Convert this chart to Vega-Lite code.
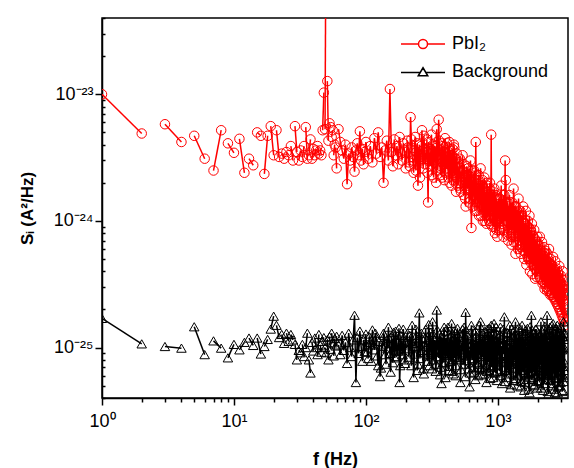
{
"$schema": "https://vega.github.io/schema/vega-lite/v6.json",
"width": 466, "height": 380,
"autosize": "none",
"padding": {"left": 102, "top": 18, "right": 6, "bottom": 70},
"background": "white",
"config": {"view": {"stroke": "black", "strokeWidth": 1.5}, "font": "Liberation Sans"},
"data": {"values": [
{"f":1,"a":1e-23,"b":1.7e-25,"p":1},{"f":2,"a":4.9e-24,"b":1.07e-25,"p":1},
{"f":3,"a":5.8e-24,"b":1.02e-25,"p":2},{"f":4,"a":4.2e-24,"b":9.9e-26,"p":2},
{"f":5,"a":4.7e-24,"b":1.46e-25,"p":3},{"f":6,"a":3.1e-24,"b":8.8e-26,"p":3},
{"f":7,"a":2.5e-24,"b":1.13e-25,"p":4},{"f":8,"a":5.2e-24,"b":9.9e-26,"p":4},
{"f":9,"a":4.1e-24,"b":8.3e-26,"p":5},{"f":10,"a":3.45e-24,"b":1.06e-25,"p":5},
{"f":11,"a":4.45e-24,"b":9.6e-26,"p":6},{"f":12,"a":2.4e-24,"b":1.1e-25,"p":6},
{"f":13,"a":3.1e-24,"b":1.19e-25,"p":7},{"f":14,"a":2.75e-24,"b":1.04e-25,"p":7},
{"f":15,"a":5e-24,"b":1.19e-25,"p":8},{"f":16,"a":4.7e-24,"b":8.9e-26,"p":8},
{"f":17,"a":2.35e-24,"b":1.02e-25,"p":9},{"f":18,"a":4.7e-24,"b":1.16e-25,"p":9},
{"f":19,"a":5.6e-24,"b":1.4e-25,"p":10},{"f":20,"a":3.3e-24,"b":1.77e-25,"p":10},
{"f":21,"a":5.2e-24,"b":1.5e-25,"p":11},{"f":22,"a":3.2e-24,"b":1.2e-25,"p":11},
{"f":23,"a":3.4e-24,"b":1.27e-25,"p":12},{"f":24,"a":3.1e-24,"b":1.08e-25,"p":12},
{"f":25,"a":3.5e-24,"b":1.3e-25,"p":13},{"f":26,"a":3.3e-24,"b":1.12e-25,"p":13},
{"f":27,"a":3.9e-24,"b":1.27e-25,"p":14},{"f":28,"a":3e-24,"b":1.15e-25,"p":14},
{"f":29,"a":5.6e-24,"b":1.06e-25,"p":15},{"f":30,"a":3.5e-24,"b":8e-26,"p":15},
{"f":31,"a":3e-24,"b":9.5e-26,"p":16},{"f":32,"a":3.6e-24,"b":9.1e-26,"p":16},
{"f":33,"a":3.2e-24,"b":1.06e-25,"p":17},{"f":34,"a":3.9e-24,"b":8.5e-26,"p":17},
{"f":35,"a":5.5e-24,"b":1e-25,"p":18},{"f":36,"a":3.1e-24,"b":1.3e-25,"p":18},
{"f":37,"a":3.3e-24,"b":8e-26,"p":19},{"f":38,"a":4.4e-24,"b":6.3e-26,"p":19},
{"f":39,"a":3.1e-24,"b":1.1e-25,"p":20},{"f":40,"a":3.7e-24,"b":9.4e-26,"p":20},
{"f":41,"a":3.3e-24,"b":1.19e-25,"p":21},{"f":42,"a":3.6e-24,"b":1e-25,"p":21},
{"f":43,"a":3.9e-24,"b":8.8e-26,"p":22},{"f":44,"a":3.4e-24,"b":1.27e-25,"p":22},
{"f":45,"a":3.6e-24,"b":1.05e-25,"p":23},{"f":46,"a":3.3e-24,"b":9.2e-26,"p":23},
{"f":47,"a":5.2e-24,"b":1.12e-25,"p":24},{"f":48,"a":1.03e-23,"b":1.2e-25,"p":24},
{"f":49,"a":5.3e-24,"b":1e-25,"p":25},{"f":50,"a":5e-22,"b":9.1e-26,"p":25},
{"f":51,"a":1.27e-23,"b":1.15e-25,"p":26},{"f":52,"a":4.3e-24,"b":8e-26,"p":26},
{"f":53,"a":5.9e-24,"b":1.22e-25,"p":27},{"f":54,"a":5.5e-24,"b":9.7e-26,"p":27},
{"f":55,"a":4.6e-24,"b":1.3e-25,"p":28},{"f":56,"a":5.2e-24,"b":1.09e-25,"p":28},
{"f":57,"a":3.3e-24,"b":8.6e-26,"p":29},{"f":58,"a":4e-24,"b":1.18e-25,"p":29},
{"f":59,"a":3.8e-24,"b":1.03e-25,"p":30},{"f":60,"a":2.6e-24,"b":1.23e-25,"p":30},
{"f":62,"a":5.3e-24,"b":1.05e-25},{"f":64,"a":4.2e-24,"b":8.8e-26},{"f":66,"a":3.6e-24,"b":1.25e-25},{"f":68,"a":3.1e-24,"b":9.5e-26},
{"f":70,"a":4e-24,"b":1.1e-25},{"f":72,"a":1.95e-24,"b":7.5e-26},{"f":74,"a":3.4e-24,"b":1.3e-25},{"f":76,"a":3e-24,"b":1e-25},
{"f":78,"a":3.8e-24,"b":8.5e-26},{"f":80,"a":3.2e-24,"b":1.15e-25},{"f":82,"a":2.45e-24,"b":1.8e-25},{"f":84,"a":3.6e-24,"b":5.3e-26},
{"f":86,"a":4.1e-24,"b":1.2e-25},{"f":88,"a":3.3e-24,"b":9e-26},{"f":90,"a":5.1e-24,"b":1.35e-25},{"f":92,"a":3e-24,"b":1.02e-25},
{"f":94,"a":3.7e-24,"b":7.8e-26},{"f":96,"a":2.8e-24,"b":1.15e-25},{"f":98,"a":3.5e-24,"b":9.3e-26},{"f":100,"a":4.2e-24,"b":1.28e-25},
{"f":104,"a":3.1e-24,"b":8.2e-26},{"f":108,"a":3.9e-24,"b":1.1e-25},{"f":112,"a":2.9e-24,"b":1.38e-25},{"f":116,"a":4.5e-24,"b":9.6e-26},
{"f":120,"a":3.4e-24,"b":1.2e-25},{"f":124,"a":5e-24,"b":7.2e-26},{"f":128,"a":3.2e-24,"b":5.9e-26},{"f":132,"a":3.8e-24,"b":1.05e-25},
{"f":136,"a":2e-24,"b":1.3e-25},{"f":140,"a":3.6e-24,"b":8.8e-26},{"f":144,"a":4.3e-24,"b":1.15e-25},{"f":148,"a":3e-24,"b":1.45e-25},
{"f":152,"a":1.1e-23,"b":9e-26},{"f":156,"a":3.5e-24,"b":1.22e-25},{"f":160,"a":2.7e-24,"b":7.6e-26},{"f":164,"a":4.4e-24,"b":1.05e-25},
{"f":168,"a":3.3e-24,"b":1.35e-25},{"f":172,"a":3.9e-24,"b":8.5e-26},{"f":176,"a":2.8e-24,"b":1.12e-25},{"f":180,"a":4.6e-24,"b":5.3e-26},
{"f":184,"a":3.4e-24,"b":1.25e-25},{"f":188,"a":3e-24,"b":9.4e-26},{"f":192,"a":4.1e-24,"b":1.4e-25},{"f":196,"a":3.6e-24,"b":8e-26},
{"f":200,"a":2.6e-24,"b":1.1e-25},
{"f":102,"b":9.2e-26},{"f":106,"b":1.22e-25},{"f":110,"b":7.8e-26},{"f":114,"b":1.05e-25},{"f":118,"b":1.3e-25},{"f":122,"b":8.6e-26},
{"f":126,"b":1.12e-25},{"f":130,"b":6.9e-26},{"f":134,"b":1.02e-25},{"f":138,"b":1.25e-25},{"f":142,"b":7.4e-26},{"f":146,"b":9.8e-26},
{"f":150,"b":1.18e-25},{"f":154,"b":6.4e-26},{"f":158,"b":1.08e-25},{"f":162,"b":1.32e-25},{"f":166,"b":8.3e-26},{"f":170,"b":1.15e-25},
{"f":174,"b":9.4e-26},{"f":178,"b":1.42e-25},{"f":182,"b":7.2e-26},{"f":186,"b":1.04e-25},{"f":190,"b":8.8e-26},{"f":194,"b":1.2e-25},{"f":198,"b":7.5e-26},
{"f":206,"a":4.3e-24,"b":1.3e-25},{"f":212,"a":2.9e-24,"b":8.4e-26},{"f":218,"a":6.6e-24,"b":1.12e-25},{"f":224,"a":3.2e-24,"b":1.5e-25},
{"f":230,"a":2.4e-24,"b":5.8e-26},{"f":236,"a":4.6e-24,"b":1.02e-25},{"f":242,"a":3.5e-24,"b":1.25e-25},{"f":248,"a":1.9e-24,"b":7.4e-26},
{"f":254,"a":4e-24,"b":1.88e-25},{"f":260,"a":3e-24,"b":9.2e-26},{"f":266,"a":5.2e-24,"b":1.18e-25},{"f":272,"a":2.6e-24,"b":6.8e-26},
{"f":278,"a":3.7e-24,"b":1.05e-25},{"f":284,"a":3.1e-24,"b":1.4e-25},{"f":290,"a":4.4e-24,"b":8.6e-26},{"f":296,"a":1.4e-24,"b":1.1e-25},
{"f":302,"a":3.4e-24,"b":7.2e-26},{"f":308,"a":2.7e-24,"b":1.32e-25},{"f":314,"a":4.8e-24,"b":9.5e-26},{"f":320,"a":3e-24,"b":1.6e-25},
{"f":326,"a":2.2e-24,"b":8e-26},{"f":332,"a":3.9e-24,"b":1.15e-25},{"f":338,"a":3.2e-24,"b":6.5e-26},{"f":344,"a":5.3e-24,"b":1.98e-25},
{"f":350,"a":2.5e-24,"b":1.05e-25},{"f":356,"a":6.3e-24,"b":8.3e-26},{"f":362,"a":3.6e-24,"b":1.28e-25},{"f":368,"a":2.3e-24,"b":7e-26},
{"f":374,"a":4.1e-24,"b":5.2e-26},{"f":380,"a":2.9e-24,"b":1.2e-25},{"f":386,"a":3.5e-24,"b":9e-26},{"f":392,"a":2.1e-24,"b":1.45e-25},
{"f":398,"a":4.5e-24,"b":7.6e-26},{"f":404,"a":3e-24,"b":1.1e-25},{"f":410,"a":2.6e-24,"b":8.8e-26},{"f":416,"a":3.8e-24,"b":1.35e-25},
{"f":422,"a":2.2e-24,"b":6.6e-26},{"f":428,"a":4.2e-24,"b":1e-25},{"f":434,"a":2.8e-24,"b":1.22e-25},{"f":440,"a":3.3e-24,"b":7.8e-26},
{"f":446,"a":1.9e-24,"b":1.55e-25},{"f":452,"a":3.7e-24,"b":9.3e-26},{"f":458,"a":2.5e-24,"b":6.2e-26},{"f":464,"a":4e-24,"b":1.16e-25},
{"f":470,"a":2.3e-24,"b":8.4e-26},{"f":476,"a":3.1e-24,"b":1.3e-25},{"f":482,"a":1.7e-24,"b":7.2e-26},{"f":488,"a":3.4e-24,"b":1.05e-25},
{"f":494,"a":2.6e-24,"b":1.42e-25},{"f":500,"a":2e-24,"b":8e-26},
{"f":209,"a":3.8e-24,"b":9.8e-26},{"f":215,"a":2.7e-24,"b":1.25e-25},{"f":221,"a":4.4e-24,"b":7.2e-26},{"f":227,"a":3e-24,"b":1.08e-25},
{"f":233,"a":3.6e-24,"b":8.9e-26},{"f":239,"a":2.5e-24,"b":1.4e-25},{"f":245,"a":4.1e-24,"b":6.6e-26},{"f":251,"a":3.3e-24,"b":1.15e-25},
{"f":257,"a":2.2e-24,"b":8.2e-26},{"f":263,"a":3.9e-24,"b":1.3e-25},{"f":269,"a":3.1e-24,"b":9.5e-26},{"f":275,"a":4.7e-24,"b":6.2e-26},
{"f":281,"a":2.8e-24,"b":1.2e-25},{"f":287,"a":3.5e-24,"b":1.02e-25},{"f":293,"a":2.4e-24,"b":7.8e-26},{"f":299,"a":4.2e-24,"b":1.52e-25},
{"f":305,"a":3e-24,"b":8.8e-26},{"f":311,"a":3.7e-24,"b":1.1e-25},{"f":317,"a":2.3e-24,"b":6.8e-26},{"f":323,"a":4e-24,"b":1.28e-25},
{"f":329,"a":2.9e-24,"b":9.2e-26},{"f":335,"a":3.4e-24,"b":1.05e-25},{"f":341,"a":2e-24,"b":7.4e-26},{"f":347,"a":3.8e-24,"b":1.38e-25},
{"f":353,"a":3.1e-24,"b":8.5e-26},{"f":359,"a":4.3e-24,"b":1.12e-25},{"f":365,"a":2.6e-24,"b":6.1e-26},{"f":371,"a":3.3e-24,"b":1.22e-25},
{"f":377,"a":2.2e-24,"b":9.6e-26},{"f":383,"a":3.9e-24,"b":7.6e-26},{"f":389,"a":2.8e-24,"b":1.33e-25},{"f":395,"a":3.5e-24,"b":1e-25},
{"f":401,"a":2.4e-24,"b":5.8e-26},{"f":407,"a":3.2e-24,"b":1.18e-25},{"f":413,"a":4.1e-24,"b":8.7e-26},{"f":419,"a":2.5e-24,"b":1.45e-25},
{"f":425,"a":3e-24,"b":7.1e-26},{"f":431,"a":2e-24,"b":1.06e-25},{"f":437,"a":3.6e-24,"b":9e-26},{"f":443,"a":2.7e-24,"b":1.26e-25},
{"f":449,"a":3.3e-24,"b":6.5e-26},{"f":455,"a":2.1e-24,"b":1.14e-25},{"f":461,"a":2.9e-24,"b":8.1e-26},{"f":467,"a":3.8e-24,"b":1.36e-25},
{"f":473,"a":2.4e-24,"b":9.7e-26},{"f":479,"a":3.1e-24,"b":6e-26},{"f":485,"a":2.2e-24,"b":1.2e-25},{"f":491,"a":2.8e-24,"b":8.6e-26},
{"f":497,"a":1.9e-24,"b":1.1e-25},
{"f":510,"a":2.9e-24,"b":1.2e-25},{"f":520,"a":1.8e-24,"b":5.3e-26},{"f":530,"a":2.4e-24,"b":9.6e-26},{"f":540,"a":3.3e-24,"b":1.4e-25},
{"f":550,"a":1.6e-24,"b":7.4e-26},{"f":560,"a":2.2e-24,"b":1.1e-25},{"f":570,"a":1.3e-24,"b":1.9e-25},{"f":580,"a":2.7e-24,"b":8.6e-26},
{"f":590,"a":1.9e-24,"b":1.25e-25},{"f":600,"a":2.3e-24,"b":6.8e-26},{"f":610,"a":1.5e-24,"b":4.9e-26},{"f":620,"a":3e-24,"b":1.05e-25},
{"f":630,"a":8.8e-25,"b":1.5e-25},{"f":640,"a":2e-24,"b":8e-26},{"f":650,"a":1.6e-24,"b":1.15e-25},{"f":660,"a":2.5e-24,"b":6.4e-26},
{"f":670,"a":1.2e-24,"b":9.8e-26},{"f":680,"a":4.2e-24,"b":1.35e-25},{"f":690,"a":1.8e-24,"b":7.6e-26},{"f":700,"a":1.4e-24,"b":1.08e-25},
{"f":710,"a":2.1e-24,"b":6e-26},{"f":720,"a":1.1e-24,"b":1.2e-25},{"f":730,"a":1.7e-24,"b":8.8e-26},{"f":740,"a":2.6e-24,"b":1.6e-25},
{"f":750,"a":1.3e-24,"b":7e-26},{"f":760,"a":1.9e-24,"b":1.02e-25},{"f":770,"a":1e-24,"b":1.3e-25},{"f":780,"a":1.6e-24,"b":6.2e-26},
{"f":790,"a":2.2e-24,"b":9.2e-26},{"f":800,"a":1.2e-24,"b":1.18e-25},{"f":810,"a":1.5e-24,"b":7.3e-26},{"f":820,"a":9.5e-25,"b":5.3e-26},
{"f":830,"a":1.9e-24,"b":1.4e-25},{"f":840,"a":1.3e-24,"b":8.5e-26},{"f":850,"a":1.7e-24,"b":1.1e-25},{"f":860,"a":1e-24,"b":6.6e-26},
{"f":870,"a":2e-24,"b":1.25e-25},{"f":880,"a":1.2e-24,"b":9e-26},{"f":890,"a":4.8e-24,"b":1.5e-25},{"f":900,"a":1.4e-24,"b":7e-26},
{"f":910,"a":9e-25,"b":1e-25},{"f":920,"a":1.6e-24,"b":5.8e-26},{"f":930,"a":1.1e-24,"b":1.3e-25},{"f":940,"a":1.8e-24,"b":8.2e-26},
{"f":950,"a":8e-25,"b":1.12e-25},{"f":960,"a":1.3e-24,"b":6.3e-26},{"f":970,"a":1e-24,"b":1.45e-25},{"f":980,"a":1.5e-24,"b":9.4e-26},
{"f":990,"a":7.5e-25,"b":7.2e-26},{"f":1000,"a":1.2e-24,"b":1.2e-25},
{"f":505,"a":2.2e-24,"b":8.4e-26},{"f":515,"a":3.1e-24,"b":1.3e-25},{"f":525,"a":1.7e-24,"b":6.7e-26},{"f":535,"a":2.5e-24,"b":1.1e-25},
{"f":545,"a":2e-24,"b":9.1e-26},{"f":555,"a":2.8e-24,"b":1.45e-25},{"f":565,"a":1.5e-24,"b":5.9e-26},{"f":575,"a":2.3e-24,"b":1.02e-25},
{"f":585,"a":1.8e-24,"b":7.9e-26},{"f":595,"a":2.6e-24,"b":1.22e-25},{"f":605,"a":1.4e-24,"b":9.4e-26},{"f":615,"a":2.1e-24,"b":6.3e-26},
{"f":625,"a":1.7e-24,"b":1.16e-25},{"f":635,"a":2.5e-24,"b":8.2e-26},{"f":645,"a":1.3e-24,"b":1.38e-25},{"f":655,"a":1.9e-24,"b":7e-26},
{"f":665,"a":2.4e-24,"b":1.06e-25},{"f":675,"a":1.5e-24,"b":5.6e-26},{"f":685,"a":2e-24,"b":1.24e-25},{"f":695,"a":1.2e-24,"b":8.9e-26},
{"f":705,"a":1.8e-24,"b":1.12e-25},{"f":715,"a":2.3e-24,"b":7.4e-26},{"f":725,"a":1.4e-24,"b":1.5e-25},{"f":735,"a":1.9e-24,"b":9.6e-26},
{"f":745,"a":1.1e-24,"b":6.1e-26},{"f":755,"a":1.6e-24,"b":1.18e-25},{"f":765,"a":2.1e-24,"b":8.5e-26},{"f":775,"a":1.3e-24,"b":1e-25},
{"f":785,"a":1.8e-24,"b":6.8e-26},{"f":795,"a":1e-24,"b":1.34e-25},{"f":805,"a":1.7e-24,"b":9.2e-26},{"f":815,"a":1.4e-24,"b":1.1e-25},
{"f":825,"a":2e-24,"b":6.5e-26},{"f":835,"a":1.1e-24,"b":1.2e-25},{"f":845,"a":1.5e-24,"b":7.7e-26},{"f":855,"a":1.2e-24,"b":1.42e-25},
{"f":865,"a":1.8e-24,"b":8.8e-26},{"f":875,"a":9.5e-25,"b":5.7e-26},{"f":885,"a":1.4e-24,"b":1.06e-25},{"f":895,"a":1.6e-24,"b":8e-26},
{"f":905,"a":1.1e-24,"b":1.26e-25},{"f":915,"a":1.7e-24,"b":7.2e-26},{"f":925,"a":1.3e-24,"b":9.9e-26},{"f":935,"a":9e-25,"b":1.55e-25},
{"f":945,"a":1.5e-24,"b":6.4e-26},{"f":955,"a":1.2e-24,"b":1.08e-25},{"f":965,"a":1.6e-24,"b":8.3e-26},{"f":975,"a":8.5e-25,"b":1.3e-25},
{"f":985,"a":1.3e-24,"b":5.5e-26},{"f":995,"a":1e-24,"b":9.5e-26},
{"f":1015,"a":1.5e-24,"b":1.1e-25},{"f":1030,"a":8.5e-25,"b":6.5e-26},{"f":1045,"a":1.3e-24,"b":1.45e-25},{"f":1060,"a":1.9e-24,"b":8e-26},
{"f":1075,"a":9.5e-25,"b":5.2e-26},{"f":1090,"a":1.2e-24,"b":1.2e-25},{"f":1105,"a":7.5e-25,"b":9e-26},{"f":1120,"a":1.6e-24,"b":1.75e-25},
{"f":1135,"a":3e-24,"b":7e-26},{"f":1150,"a":2.1e-24,"b":1.05e-25},{"f":1165,"a":1e-24,"b":5.8e-26},{"f":1180,"a":1.4e-24,"b":1.3e-25},
{"f":1195,"a":7e-25,"b":8.6e-26},{"f":1210,"a":1.1e-24,"b":6.2e-26},{"f":1225,"a":1.6e-24,"b":1.15e-25},{"f":1240,"a":8.5e-25,"b":4.8e-26},
{"f":1255,"a":1.2e-24,"b":9.5e-26},{"f":1270,"a":6.5e-25,"b":1.4e-25},{"f":1285,"a":1.4e-24,"b":7.4e-26},{"f":1300,"a":9.5e-25,"b":1.05e-25},
{"f":1315,"a":1.8e-24,"b":5.5e-26},{"f":1330,"a":7.5e-25,"b":1.25e-25},{"f":1345,"a":1.1e-24,"b":8e-26},{"f":1360,"a":5.5e-25,"b":1.6e-25},
{"f":1375,"a":1.3e-24,"b":6.8e-26},{"f":1390,"a":8.5e-25,"b":1e-25},{"f":1405,"a":1e-24,"b":5e-26},{"f":1420,"a":6e-25,"b":1.2e-25},
{"f":1435,"a":1.5e-24,"b":8.8e-26},{"f":1450,"a":9e-25,"b":6e-26},{"f":1465,"a":7e-25,"b":1.35e-25},{"f":1480,"a":1.2e-24,"b":7.6e-26},
{"f":1495,"a":5.5e-25,"b":1.08e-25},{"f":1510,"a":8e-25,"b":5.4e-26},{"f":1525,"a":1.1e-24,"b":1.5e-25},{"f":1540,"a":6.5e-25,"b":8.3e-26},
{"f":1555,"a":1.3e-24,"b":6.6e-26},{"f":1570,"a":7.5e-25,"b":1.18e-25},{"f":1585,"a":5e-25,"b":4.6e-26},{"f":1600,"a":9.5e-25,"b":9.2e-26},
{"f":1615,"a":6.5e-25,"b":1.3e-25},{"f":1630,"a":1.2e-24,"b":7e-26},{"f":1645,"a":4.5e-25,"b":1e-25},{"f":1660,"a":8e-25,"b":5.6e-26},
{"f":1675,"a":6e-25,"b":1.42e-25},{"f":1690,"a":1e-24,"b":8e-26},{"f":1705,"a":5e-25,"b":6.3e-26},{"f":1720,"a":7.5e-25,"b":1.15e-25},
{"f":1735,"a":1.1e-24,"b":4.4e-26},{"f":1750,"a":4e-25,"b":9.6e-26},{"f":1765,"a":6.5e-25,"b":1.25e-25},{"f":1780,"a":8.5e-25,"b":7.2e-26},
{"f":1795,"a":5e-25,"b":1.8e-25},{"f":1810,"a":9.5e-25,"b":5.8e-26},{"f":1825,"a":3.8e-25,"b":1.05e-25},{"f":1840,"a":6e-25,"b":8.6e-26},
{"f":1855,"a":7.5e-25,"b":6.5e-26},{"f":1870,"a":4.5e-25,"b":1.3e-25},{"f":1885,"a":8.5e-25,"b":5.1e-26},{"f":1900,"a":5.5e-25,"b":9.8e-26},
{"f":1915,"a":3.5e-25,"b":7.6e-26},{"f":1930,"a":7e-25,"b":1.4e-25},{"f":1945,"a":4.8e-25,"b":6e-26},{"f":1960,"a":6e-25,"b":1.1e-25},
{"f":1975,"a":3.6e-25,"b":8.2e-26},{"f":1990,"a":7.5e-25,"b":4.8e-26},{"f":2005,"a":4.5e-25,"b":1.2e-25},
{"f":1022,"a":1.1e-24,"b":8.6e-26},{"f":1037,"a":1.5e-24,"b":1.28e-25},{"f":1052,"a":9e-25,"b":6e-26},{"f":1067,"a":1.3e-24,"b":1.02e-25},
{"f":1082,"a":1e-24,"b":7.6e-26},{"f":1097,"a":1.6e-24,"b":1.4e-25},{"f":1112,"a":8.5e-25,"b":9e-26},{"f":1127,"a":1.2e-24,"b":5.4e-26},
{"f":1142,"a":1e-24,"b":1.15e-25},{"f":1157,"a":1.4e-24,"b":8.2e-26},{"f":1172,"a":7.8e-25,"b":1.32e-25},{"f":1187,"a":1.1e-24,"b":6.6e-26},
{"f":1202,"a":1.3e-24,"b":1e-25},{"f":1217,"a":8e-25,"b":7.3e-26},{"f":1232,"a":1e-24,"b":1.5e-25},{"f":1247,"a":1.4e-24,"b":8.8e-26},
{"f":1262,"a":7.5e-25,"b":5.1e-26},{"f":1277,"a":1.1e-24,"b":1.2e-25},{"f":1292,"a":8.5e-25,"b":9.4e-26},{"f":1307,"a":1.2e-24,"b":6.9e-26},
{"f":1322,"a":6.8e-25,"b":1.36e-25},{"f":1337,"a":1e-24,"b":8e-26},{"f":1352,"a":1.3e-24,"b":1.08e-25},{"f":1367,"a":7.6e-25,"b":5.7e-26},
{"f":1382,"a":9.5e-25,"b":1.24e-25},{"f":1397,"a":1.2e-24,"b":7.8e-26},{"f":1412,"a":6.5e-25,"b":9.6e-26},{"f":1427,"a":9e-25,"b":6.2e-26},
{"f":1442,"a":1.1e-24,"b":1.44e-25},{"f":1457,"a":7e-25,"b":8.4e-26},{"f":1472,"a":8.8e-25,"b":1.1e-25},{"f":1487,"a":1.1e-24,"b":4.9e-26},
{"f":1502,"a":6.2e-25,"b":1.18e-25},{"f":1517,"a":9e-25,"b":7.1e-26},{"f":1532,"a":7.4e-25,"b":9.2e-26},{"f":1547,"a":1e-24,"b":1.3e-25},
{"f":1562,"a":5.8e-25,"b":6.4e-26},{"f":1577,"a":8.4e-25,"b":1.04e-25},{"f":1592,"a":7e-25,"b":8.6e-26},{"f":1607,"a":9.6e-25,"b":5.3e-26},
{"f":1622,"a":5.6e-25,"b":1.38e-25},{"f":1637,"a":8e-25,"b":7.5e-26},{"f":1652,"a":6.6e-25,"b":1e-25},{"f":1667,"a":9.2e-25,"b":6.1e-26},
{"f":1682,"a":5.2e-25,"b":1.22e-25},{"f":1697,"a":7.4e-25,"b":8.9e-26},{"f":1712,"a":6.2e-25,"b":4.7e-26},{"f":1727,"a":8.8e-25,"b":1.12e-25},
{"f":1742,"a":5e-25,"b":7.7e-26},{"f":1757,"a":7e-25,"b":1.46e-25},{"f":1772,"a":5.8e-25,"b":6.3e-26},{"f":1787,"a":8.2e-25,"b":9.5e-26},
{"f":1802,"a":4.6e-25,"b":1.16e-25},{"f":1817,"a":6.6e-25,"b":5.6e-26},{"f":1832,"a":5.4e-25,"b":8.3e-26},{"f":1847,"a":7.6e-25,"b":1.3e-25},
{"f":1862,"a":4.4e-25,"b":7e-26},{"f":1877,"a":6.2e-25,"b":1.02e-25},{"f":1892,"a":5.2e-25,"b":5e-26},{"f":1907,"a":7.2e-25,"b":1.2e-25},
{"f":1922,"a":4.2e-25,"b":8.5e-26},{"f":1937,"a":5.8e-25,"b":6.6e-26},{"f":1952,"a":4.9e-25,"b":1.4e-25},{"f":1967,"a":6.8e-25,"b":7.9e-26},
{"f":1982,"a":4e-25,"b":5.4e-26},{"f":1997,"a":5.6e-25,"b":1.06e-25},
{"f":2020,"a":6.5e-25,"b":7e-26},{"f":2040,"a":3.8e-25,"b":1.3e-25},{"f":2060,"a":5e-25,"b":5.5e-26},{"f":2080,"a":7.5e-25,"b":1.05e-25},
{"f":2100,"a":3.5e-25,"b":8.4e-26},{"f":2120,"a":5.5e-25,"b":1.6e-25},{"f":2140,"a":4.2e-25,"b":6.2e-26},{"f":2160,"a":6.8e-25,"b":9.6e-26},
{"f":2180,"a":3.2e-25,"b":1.2e-25},{"f":2200,"a":5e-25,"b":4.6e-26},{"f":2220,"a":4e-25,"b":8.8e-26},{"f":2240,"a":6.2e-25,"b":1.4e-25},
{"f":2260,"a":2.9e-25,"b":7.2e-26},{"f":2280,"a":4.6e-25,"b":1.1e-25},{"f":2300,"a":5.8e-25,"b":5.6e-26},{"f":2320,"a":3.4e-25,"b":1.28e-25},
{"f":2340,"a":4.8e-25,"b":8e-26},{"f":2360,"a":2.8e-25,"b":1.8e-25},{"f":2380,"a":5.5e-25,"b":6.5e-26},{"f":2400,"a":3.8e-25,"b":1e-25},
{"f":2420,"a":4.4e-25,"b":4.3e-26},{"f":2440,"a":6e-25,"b":1.18e-25},{"f":2460,"a":3e-25,"b":8.6e-26},{"f":2480,"a":4.2e-25,"b":1.45e-25},
{"f":2500,"a":2.6e-25,"b":6e-26},{"f":2520,"a":5e-25,"b":9.4e-26},{"f":2540,"a":3.6e-25,"b":1.25e-25},{"f":2560,"a":4.5e-25,"b":5.2e-26},
{"f":2580,"a":2.7e-25,"b":1.05e-25},{"f":2600,"a":3.9e-25,"b":7.6e-26},{"f":2620,"a":5.2e-25,"b":1.55e-25},{"f":2640,"a":3.1e-25,"b":6.8e-26},
{"f":2660,"a":4.2e-25,"b":9.8e-26},{"f":2680,"a":2.5e-25,"b":4.7e-26},{"f":2700,"a":3.6e-25,"b":1.2e-25},{"f":2720,"a":4.8e-25,"b":8.2e-26},
{"f":2740,"a":2.9e-25,"b":1.38e-25},{"f":2760,"a":3.8e-25,"b":5.8e-26},{"f":2780,"a":2.4e-25,"b":1e-25},{"f":2800,"a":4.2e-25,"b":7e-26},
{"f":2820,"a":3.2e-25,"b":1.5e-25},{"f":2840,"a":2.6e-25,"b":4.4e-26},{"f":2860,"a":3.9e-25,"b":9e-26},{"f":2880,"a":2.2e-25,"b":1.15e-25},
{"f":2900,"a":3.4e-25,"b":6.4e-26},{"f":2920,"a":4.4e-25,"b":1.3e-25},{"f":2940,"a":2.5e-25,"b":8.4e-26},{"f":2960,"a":3.3e-25,"b":5e-26},
{"f":2980,"a":2e-25,"b":1.1e-25},{"f":3000,"a":3.7e-25,"b":7.4e-26},{"f":3020,"a":2.8e-25,"b":1.45e-25},{"f":3040,"a":3.5e-25,"b":6e-26},
{"f":3060,"a":1.9e-25,"b":9.6e-26},{"f":3080,"a":2.9e-25,"b":4.5e-26},{"f":3100,"a":4e-25,"b":1.22e-25},{"f":3120,"a":2.3e-25,"b":8e-26},
{"f":3140,"a":3.1e-25,"b":1.6e-25},{"f":3160,"a":1.7e-25,"b":5.4e-26},{"f":3180,"a":2.6e-25,"b":1e-25},{"f":3200,"a":3.4e-25,"b":6.6e-26},
{"f":3220,"a":1.5e-25,"b":1.3e-25},
{"f":2030,"a":5.6e-25,"b":9.2e-26},{"f":2050,"a":4.2e-25,"b":5.9e-26},{"f":2070,"a":6.4e-25,"b":1.24e-25},{"f":2090,"a":3.6e-25,"b":7.4e-26},
{"f":2110,"a":4.8e-25,"b":1.05e-25},{"f":2130,"a":5.9e-25,"b":4.8e-26},{"f":2150,"a":3.4e-25,"b":1.36e-25},{"f":2170,"a":4.6e-25,"b":8.1e-26},
{"f":2190,"a":5.4e-25,"b":6.3e-26},{"f":2210,"a":3.3e-25,"b":1.15e-25},{"f":2230,"a":4.4e-25,"b":9e-26},{"f":2250,"a":5.6e-25,"b":5.2e-26},
{"f":2270,"a":3.2e-25,"b":1.48e-25},{"f":2290,"a":4.1e-25,"b":7.6e-26},{"f":2310,"a":5e-25,"b":1e-25},{"f":2330,"a":3e-25,"b":6e-26},
{"f":2350,"a":4e-25,"b":1.26e-25},{"f":2370,"a":5.2e-25,"b":8.6e-26},{"f":2390,"a":2.9e-25,"b":4.5e-26},{"f":2410,"a":3.8e-25,"b":1.1e-25},
{"f":2430,"a":4.7e-25,"b":7.2e-26},{"f":2450,"a":2.8e-25,"b":1.38e-25},{"f":2470,"a":3.6e-25,"b":9.4e-26},{"f":2490,"a":4.6e-25,"b":5.5e-26},
{"f":2510,"a":2.7e-25,"b":1.2e-25},{"f":2530,"a":3.5e-25,"b":6.8e-26},{"f":2550,"a":4.4e-25,"b":8.8e-26},{"f":2570,"a":2.6e-25,"b":1.5e-25},
{"f":2590,"a":3.4e-25,"b":5e-26},{"f":2610,"a":4.2e-25,"b":1.02e-25},{"f":2630,"a":2.5e-25,"b":7.8e-26},{"f":2650,"a":3.3e-25,"b":1.3e-25},
{"f":2670,"a":4e-25,"b":6.1e-26},{"f":2690,"a":2.4e-25,"b":9.6e-26},{"f":2710,"a":3.2e-25,"b":4.4e-26},{"f":2730,"a":3.9e-25,"b":1.18e-25},
{"f":2750,"a":2.3e-25,"b":8.3e-26},{"f":2770,"a":3e-25,"b":1.42e-25},{"f":2790,"a":3.7e-25,"b":5.7e-26},{"f":2810,"a":2.2e-25,"b":1.06e-25},
{"f":2830,"a":2.9e-25,"b":7e-26},{"f":2850,"a":3.6e-25,"b":1.25e-25},{"f":2870,"a":2.1e-25,"b":4.9e-26},{"f":2890,"a":2.8e-25,"b":9.1e-26},
{"f":2910,"a":3.4e-25,"b":1.34e-25},{"f":2930,"a":2e-25,"b":6.5e-26},{"f":2950,"a":2.7e-25,"b":1.12e-25},{"f":2970,"a":3.3e-25,"b":8e-26},
{"f":2990,"a":1.9e-25,"b":5.3e-26},{"f":3010,"a":2.6e-25,"b":1.45e-25},{"f":3030,"a":3.2e-25,"b":7.5e-26},{"f":3050,"a":1.8e-25,"b":1e-25},
{"f":3070,"a":2.5e-25,"b":6.2e-26},{"f":3090,"a":3e-25,"b":1.22e-25},{"f":3110,"a":1.7e-25,"b":4.6e-26},{"f":3130,"a":2.4e-25,"b":9.8e-26},
{"f":3150,"a":2.9e-25,"b":1.3e-25},{"f":3170,"a":1.6e-25,"b":7.1e-26},{"f":3190,"a":2.2e-25,"b":5.8e-26},{"f":3210,"a":2.7e-25,"b":1.16e-25}
]},
"transform": [{"fold": ["a", "b"], "as": ["g", "s"]}, {"filter": "isValid(datum.s) && datum.s > 0"}],
"encoding": {
  "x": {"field": "f", "type": "quantitative",
    "scale": {"type": "log", "domain": [1, 3400], "nice": false},
    "axis": {"values": [1,2,3,4,5,6,7,8,9,10,20,30,40,50,60,70,80,90,100,200,300,400,500,600,700,800,900,1000,2000,3000],
      "labelExpr": "datum.value == 1 ? '10⁰' : datum.value == 10 ? '10¹' : datum.value == 100 ? '10²' : datum.value == 1000 ? '10³' : ''",
      "labelOverlap": false, "labelFlush": false, "grid": false,
      "domainColor": "black", "domainWidth": 1.5, "tickColor": "black", "tickWidth": 1.5,
      "tickSize": {"condition": {"test": "indexof([1,10,100,1000], datum.value) >= 0", "value": 7}, "value": 4},
      "labelFont": "Liberation Sans", "labelFontSize": 18, "labelColor": "black", "labelPadding": 7,
      "title": "f (Hz)", "titleFont": "Liberation Sans", "titleFontSize": 18, "titleFontWeight": "bold", "titleColor": "black", "titlePadding": 20}},
  "y": {"field": "s", "type": "quantitative",
    "scale": {"type": "log", "domain": [4e-26, 4e-23], "nice": false},
    "axis": {"values": [4e-26,5e-26,6e-26,7e-26,8e-26,9e-26,1e-25,2e-25,3e-25,4e-25,5e-25,6e-25,7e-25,8e-25,9e-25,1e-24,2e-24,3e-24,4e-24,5e-24,6e-24,7e-24,8e-24,9e-24,1e-23,2e-23,3e-23,4e-23],
      "labelExpr": "datum.value == 1e-23 ? '10⁻²³' : datum.value == 1e-24 ? '10⁻²⁴' : datum.value == 1e-25 ? '10⁻²⁵' : ''",
      "labelOverlap": false, "labelFlush": false, "grid": false,
      "domainColor": "black", "domainWidth": 1.5, "tickColor": "black", "tickWidth": 1.5,
      "tickSize": {"condition": {"test": "indexof([1e-25,1e-24,1e-23], datum.value) >= 0", "value": 7}, "value": -3},
      "labelFont": "Liberation Sans", "labelFontSize": 18, "labelColor": "black", "labelPadding": 2,
      "title": "Sᵢ (A²/Hz)", "titleFont": "Liberation Sans", "titleFontSize": 17, "titleFontWeight": "bold", "titleColor": "black", "titlePadding": 17}},
  "color": {"field": "g", "type": "nominal",
    "scale": {"domain": ["a", "b"], "range": ["#ff0000", "#000000"]},
    "legend": {"title": null, "orient": "none", "legendX": 312, "legendY": 17, "padding": 0,
      "labelFont": "Liberation Sans", "labelFontSize": 18, "labelColor": "black",
      "labelExpr": "datum.value == 'a' ? 'PbI₂' : 'Background'",
      "symbolSize": 100, "symbolStrokeWidth": 1.5, "labelOffset": 20, "rowPadding": 10,
      "encode": {"symbols": {"update": {
        "shape": {"signal": "datum.value == 'a' ? 'M-4.4,0H-0.9M0.9,0H4.4M0.9,0A0.9,0.9,0,1,1,-0.9,0A0.9,0.9,0,1,1,0.9,0' : 'M-4.4,0.1H-0.5M0.5,0.1H4.4M0,-0.85L0.95,0.75L-0.95,0.75Z'"},
        "fill": {"value": "white"}}}}}}
},
"layer": [
  {"transform": [{"filter": "datum.g == 'a'"}],
   "mark": {"type": "line", "strokeWidth": 1.5, "clip": true},
   "encoding": {"detail": {"field": "p", "type": "nominal"}}},
  {"transform": [{"filter": "datum.g == 'a'"}],
   "mark": {"type": "point", "shape": "circle", "size": 90, "strokeWidth": 1, "filled": false, "clip": true, "opacity": 1},
   "encoding": {}},
  {"transform": [{"filter": "datum.g == 'b'"}],
   "mark": {"type": "line", "strokeWidth": 1.5, "clip": true},
   "encoding": {"detail": {"field": "p", "type": "nominal"}}},
  {"transform": [{"filter": "datum.g == 'b'"}],
   "mark": {"type": "point", "shape": "triangle-up", "size": 90, "strokeWidth": 1, "filled": false, "clip": true, "opacity": 1},
   "encoding": {}}
]
}
